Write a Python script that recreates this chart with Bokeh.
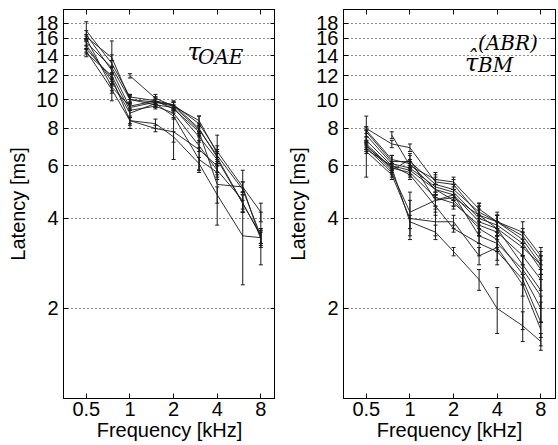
import math
from bokeh.plotting import figure
from bokeh.layouts import row
from bokeh.models import LogAxis, FixedTicker, CustomJSTickFormatter, Range1d, Label
from bokeh.embed import file_html
from bokeh.resources import INLINE

NaN = float("nan")

freqs = [0.5, 0.75, 1, 1.5, 2, 3, 4, 6, 8]
x_ticks = [0.5, 1, 2, 4, 8]
y_ticks = [2, 4, 6, 8, 10, 12, 14, 16, 18]

# tau_OAE latency (ms) per subject at each frequency
oae_latency = [
    [17.0, 13.2, 10.2, 9.9, 9.6, 8.3, 6.7, 5.1, 4.2],
    [16.5, 12.5, 9.4, 9.8, 9.5, 7.9, 6.5, 5.0, 3.5],
    [16.0, 11.0, 9.5, 9.9, 9.3, 7.8, 5.2, 5.1, 3.4],
    [15.5, 12.8, 10.0, 9.6, 9.4, 7.5, 6.3, 4.5, 3.5],
    [15.2, 11.5, 9.0, 9.7, 8.8, 6.3, 5.7, NaN, NaN],
    [14.8, 11.8, 8.5, 8.3, 7.5, 6.1, 4.8, 3.5, 3.45],
    [14.5, 10.8, 8.5, 8.0, 7.8, 6.8, 6.0, NaN, NaN],
    [14.3, 12.0, 9.2, 9.5, 9.0, 7.0, 5.8, 4.6, NaN],
    [NaN, NaN, 12.0, 10.1, 9.5, 8.5, 6.6, NaN, NaN],
    [16.2, 13.8, 10.0, 9.8, 9.6, 8.0, 6.4, 4.5, 3.5],
]
oae_error = [
    [1.2, 0.3, 0.2, 0.3, 0.3, 0.5, 0.3, 0.2, 0.3],
    [0.5, 0.3, 0.2, 0.3, 0.3, 0.3, 0.3, 0.8, 0.2],
    [0.3, 0.3, 0.3, 0.3, 0.2, 0.3, 1.4, 0.2, 0.2],
    [0.4, 2.9, 0.3, 0.2, 0.2, 0.3, 0.3, 0.3, 0.2],
    [0.4, 0.3, 0.3, 0.3, 0.2, 0.6, 0.3, NaN, NaN],
    [0.4, 0.3, 0.2, 0.3, 0.3, 0.3, 0.3, 1.1, 0.2],
    [0.3, 0.3, 0.3, 0.2, 1.5, 1.0, 0.3, NaN, NaN],
    [0.4, 0.3, 1.2, 0.2, 0.3, 0.3, 0.3, 0.3, NaN],
    [NaN, NaN, 0.2, 0.3, 0.3, 0.3, 1.0, NaN, NaN],
    [0.3, 0.3, 0.2, 0.2, 0.2, 0.3, 0.3, 0.3, 0.7],
]

# tau_BM^(ABR) latency (ms) per subject at each frequency
abr_latency = [
    [8.0, 7.1, 6.9, 5.3, 5.2, 4.1, 3.9, 3.5, 2.9],
    [7.8, 6.2, 6.2, 5.2, 5.0, 4.2, 3.9, 3.4, 2.8],
    [7.6, 6.1, 5.9, 5.1, 4.9, 4.0, 3.8, 3.3, 2.7],
    [7.3, 6.0, 5.8, 5.0, 4.8, 3.9, 3.7, 3.2, 2.8],
    [7.1, 5.9, 5.7, 4.7, 4.5, 3.8, 3.6, 3.0, 2.5],
    [7.0, 5.8, 6.3, 4.6, 4.7, 4.1, 3.7, 2.8, 2.3],
    [6.9, 5.7, 4.2, 4.6, 4.8, 3.5, 3.3, 2.7, 2.2],
    [6.8, 6.0, 5.6, 4.4, 3.7, 3.3, 3.1, 2.5, 1.8],
    [6.7, 5.6, 4.0, 3.9, 3.9, 3.0, 3.2, 2.4, 1.7],
    [7.0, 5.9, 3.9, 3.6, 3.1, 2.5, 2.0, 1.75, 1.55],
    [NaN, 7.6, 6.0, 5.4, 5.3, 4.3, 3.9, 3.6, 3.0],
    [7.9, 6.3, 6.1, 5.0, 4.6, 3.7, 3.4, 2.6, 2.0],
]
abr_error = [
    [0.8, 0.2, 0.2, 0.4, 0.2, 0.3, 0.3, 0.2, 0.2],
    [0.3, 0.3, 0.3, 0.3, 0.2, 0.2, 0.2, 0.2, 0.2],
    [0.3, 0.4, 0.3, 0.3, 0.3, 0.5, 0.3, 0.3, 0.2],
    [0.2, 0.2, 0.2, 0.2, 0.2, 0.2, 0.2, 0.2, 0.2],
    [0.2, 0.2, 0.2, 0.5, 0.2, 0.3, 0.5, 0.2, 0.2],
    [0.2, 0.2, 0.3, 0.2, 0.3, 0.2, 0.2, 0.2, 0.3],
    [0.2, 0.2, 0.7, 0.2, 0.2, 0.2, 0.2, 0.3, 0.4],
    [0.2, 0.2, 0.2, 0.3, 0.1, 0.3, 0.3, 0.8, 0.3],
    [1.2, 0.2, 0.6, 0.4, 0.2, 0.2, 0.3, 0.2, 0.1],
    [0.2, 0.2, 0.2, 0.2, 0.1, 0.2, 0.35, 0.2, 0.1],
    [NaN, 0.2, 0.2, 0.2, 0.2, 0.2, 0.2, 0.3, 0.2],
    [0.2, 0.2, 0.2, 0.2, 0.2, 0.2, 0.2, 0.2, 0.2],
]

FONT = "Liberation Sans"
SERIF = "DejaVu Serif"
TICK_SIZE = "20px"
LABEL_SIZE = "20px"


def make_panel(latency, error, left_border, right_border):
    p = figure(
        x_axis_type="log", y_axis_type="log",
        x_range=Range1d(0.348, 10.1), y_range=Range1d(1.0, 20.0),
        frame_width=212, frame_height=389,
        min_border_left=left_border, min_border_right=right_border,
        min_border_top=9, min_border_bottom=2,
        output_backend="svg", toolbar_location=None,
        background_fill_color="white", border_fill_color="white",
    )
    p.outline_line_color = "black"
    p.outline_line_width = 1
    p.xgrid.visible = False
    p.ygrid.ticker = FixedTicker(ticks=y_ticks)
    p.ygrid.grid_line_color = "black"
    p.ygrid.grid_line_dash = "1 3"
    p.ygrid.grid_line_width = 1
    p.ygrid.grid_line_alpha = 0.9

    fmt = CustomJSTickFormatter(code="return String(tick);")
    for ax, ticks in ((p.xaxis[0], x_ticks), (p.yaxis[0], y_ticks)):
        ax.ticker = FixedTicker(ticks=ticks)
        ax.formatter = fmt
        ax.major_tick_in = 5
        ax.major_tick_out = 0
        ax.minor_tick_line_color = None
        ax.axis_line_color = "black"
        ax.major_tick_line_color = "black"
        ax.major_label_text_font = FONT
        ax.major_label_text_font_size = TICK_SIZE
        ax.major_label_text_color = "black"
        ax.axis_label_text_font = FONT
        ax.axis_label_text_font_size = LABEL_SIZE
        ax.axis_label_text_font_style = "normal"
        ax.axis_label_text_color = "black"
    p.xaxis[0].axis_label = "Frequency [kHz]"
    p.yaxis[0].axis_label = "Latency [ms]"
    p.xaxis[0].major_label_standoff = 3
    p.xaxis[0].axis_label_standoff = 0
    p.yaxis[0].major_label_standoff = 5
    p.yaxis[0].axis_label_standoff = 4

    # mirrored tick marks (top and right), no labels
    for place, ticks in (("above", x_ticks), ("right", y_ticks)):
        ax = LogAxis(ticker=FixedTicker(ticks=ticks), formatter=CustomJSTickFormatter(code="return '';"))
        ax.major_tick_in = 5
        ax.major_tick_out = 0
        ax.minor_tick_line_color = None
        ax.major_label_text_font_size = "0px"
        ax.major_label_standoff = 0
        ax.axis_line_color = "black"
        p.add_layout(ax, place)

    seg_x, seg_lo, seg_hi = [], [], []
    for vals, errs in zip(latency, error):
        p.line(freqs, vals, line_color="#1a1a1a", line_width=0.9)
        for f, v, e in zip(freqs, vals, errs):
            if not (math.isnan(v) or math.isnan(e)):
                seg_x.append(f)
                seg_lo.append(v - e)
                seg_hi.append(v + e)
    p.segment(x0=seg_x, y0=seg_lo, x1=seg_x, y1=seg_hi, line_color="#1a1a1a", line_width=1)
    p.scatter(x=seg_x + seg_x, y=seg_lo + seg_hi, marker="dash", size=4,
              line_color="#1a1a1a", line_width=1)
    return p


def add_text(p, x, y, text, size):
    p.add_layout(Label(x=x, y=y, text=text, text_font=SERIF, text_font_style="italic",
                       text_font_size=size, text_baseline="alphabetic", text_color="black"))


p1 = make_panel(oae_latency, oae_error, 63, 0)
add_text(p1, 2.5, 14.4, "τ", "24px")
add_text(p1, 2.95, 13.9, "OAE", "20px")

p2 = make_panel(abr_latency, abr_error, 68, 1)
add_text(p2, 2.4, 13.2, "τ", "24px")
add_text(p2, 2.45, 13.7, "ˆ", "22px")
add_text(p2, 2.95, 15.4, "(ABR)", "20px")
add_text(p2, 2.95, 13.0, "BM", "20px")

layout = row(p1, p2, spacing=0)
open("out.html", "w").write(file_html(layout, INLINE))
